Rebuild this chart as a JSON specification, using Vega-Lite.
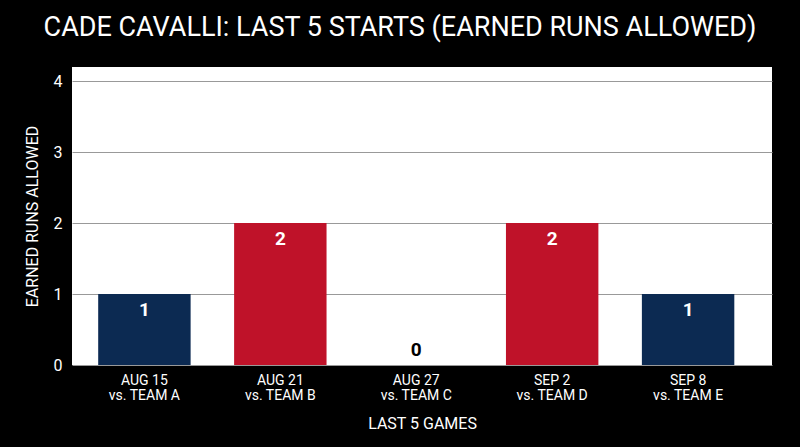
{
  "$schema": "https://vega.github.io/schema/vega-lite/v6.json",
  "width": 700,
  "height": 298,
  "autosize": "none",
  "padding": {"left": 72, "top": 67, "right": 28, "bottom": 82},
  "background": "black",
  "title": {
    "text": "CADE CAVALLI: LAST 5 STARTS (EARNED RUNS ALLOWED)",
    "font": "Roboto",
    "fontSize": 27,
    "fontWeight": "normal",
    "color": "white",
    "anchor": "middle",
    "offset": 25,
    "dx": -22
  },
  "config": {
    "view": {"fill": "white", "stroke": null},
    "font": "Roboto"
  },
  "data": {
    "values": [
      {"game": "AUG 15|vs. TEAM A", "runs": 1},
      {"game": "AUG 21|vs. TEAM B", "runs": 2},
      {"game": "AUG 27|vs. TEAM C", "runs": 0},
      {"game": "SEP 2|vs. TEAM D", "runs": 2},
      {"game": "SEP 8|vs. TEAM E", "runs": 1}
    ]
  },
  "encoding": {
    "x": {
      "field": "game",
      "type": "nominal",
      "sort": null,
      "title": "LAST 5 GAMES",
      "scale": {"paddingInner": 0.32, "paddingOuter": 0.235, "align": 0.41},
      "axis": {
        "labelExpr": "split(datum.label, '|')",
        "labelAngle": 0,
        "labelColor": "white",
        "labelFontSize": 14,
        "labelLineHeight": 15,
        "labelPadding": 8,
        "ticks": false,
        "domain": false,
        "titleColor": "white",
        "titleFontSize": 16,
        "titleFontWeight": "normal",
        "titlePadding": 13
      }
    },
    "y": {
      "field": "runs",
      "type": "quantitative",
      "title": "EARNED RUNS ALLOWED",
      "scale": {"domain": [0, 4.2], "nice": false},
      "axis": {
        "values": [0, 1, 2, 3, 4],
        "labelColor": "white",
        "labelFontSize": 16,
        "labelPadding": 10,
        "ticks": false,
        "domain": false,
        "gridColor": "#999999",
        "gridWidth": 1,
        "titleColor": "white",
        "titleFontSize": 16,
        "titleFontWeight": "normal",
        "titlePadding": 13
      }
    }
  },
  "layer": [
    {
      "mark": {"type": "bar"},
      "encoding": {
        "color": {
          "field": "runs",
          "type": "ordinal",
          "scale": {"domain": [0, 1, 2], "range": ["#0c2a52", "#0c2a52", "#bf1229"]},
          "legend": null
        }
      }
    },
    {
      "transform": [{"filter": "datum.runs > 0"}],
      "mark": {"type": "text", "baseline": "top", "dy": 7, "fontSize": 19, "fontWeight": "bold", "color": "white"},
      "encoding": {"text": {"field": "runs", "type": "quantitative"}}
    },
    {
      "transform": [{"filter": "datum.runs == 0"}],
      "mark": {"type": "text", "baseline": "bottom", "dy": -5, "fontSize": 19, "fontWeight": "bold", "color": "black"},
      "encoding": {"text": {"field": "runs", "type": "quantitative"}}
    }
  ]
}
